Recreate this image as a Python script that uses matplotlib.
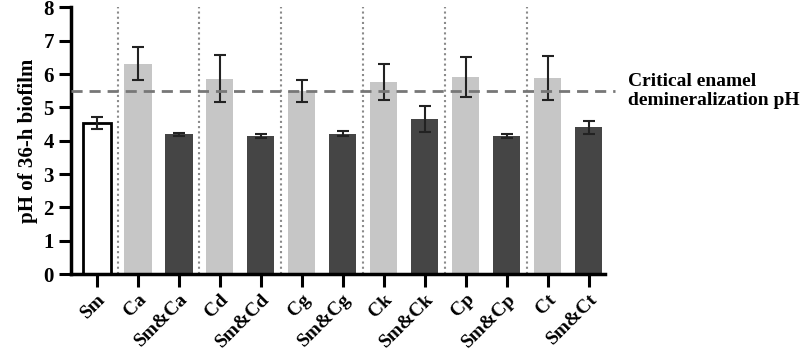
import numpy as np
import matplotlib.pyplot as plt

plt.rcParams['font.family'] = ['Liberation Serif', 'DejaVu Serif']
plt.rcParams['font.weight'] = 'bold'

labels = ['Sm', 'Ca', 'Sm&Ca', 'Cd', 'Sm&Cd', 'Cg', 'Sm&Cg', 'Ck', 'Sm&Ck',
          'Cp', 'Sm&Cp', 'Ct', 'Sm&Ct']
ph = [4.52, 6.31, 4.19, 5.86, 4.14, 5.50, 4.21, 5.75, 4.65, 5.91, 4.14, 5.88, 4.40]
err = [0.18, 0.49, 0.05, 0.70, 0.05, 0.33, 0.07, 0.54, 0.40, 0.61, 0.07, 0.66, 0.19]
critical_ph = 5.5

colors = ['white'] + ['#c6c6c6', '#454545'] * 6
edges = ['black'] + ['none'] * 12

fig = plt.figure(figsize=(8, 3.55), dpi=100)
ax = fig.add_axes([0.089, 0.228, 0.6675, 0.751])

x = np.arange(len(labels))
ax.bar(x, ph, width=0.66, color=colors, edgecolor=edges, linewidth=2, zorder=2)
ax.errorbar(x, ph, yerr=err, fmt='none', ecolor='#222222', elinewidth=1.5,
            capsize=4, capthick=1.5, zorder=3)

# separators between groups
for s in np.arange(0.5, 11, 2):
    ax.axvline(s, ymin=0, ymax=1, color='#8a8a8a', linestyle=(0, (1, 1.5)), lw=1.5, zorder=1)

ax.plot([-0.63, 12.65], [critical_ph, critical_ph], color='#777777', lw=2,
        linestyle=(0, (4, 2.5)), clip_on=False, zorder=4)
ax.text(12.95, critical_ph, 'Critical enamel\ndemineralization pH', fontsize=14,
        fontweight='bold', va='center', ha='left', linespacing=1.15)

ax.set_xlim(-0.63, 12.4)
ax.set_ylim(0, 8)
ax.set_yticks(range(0, 9))
ax.set_xticks(x)
ax.set_xticklabels(labels, rotation=45, ha='right', rotation_mode='anchor')
ax.tick_params(axis='both', width=2.2, length=9)
ax.tick_params(axis='x', labelsize=14, pad=3)
ax.tick_params(axis='y', labelsize=15)
ax.set_ylabel('pH of 36-h biofilm', fontsize=15, fontweight='bold')
for side in ['top', 'right']:
    ax.spines[side].set_visible(False)
for side in ['left', 'bottom']:
    ax.spines[side].set_linewidth(2.5)

plt.savefig('out.png', dpi=100)
